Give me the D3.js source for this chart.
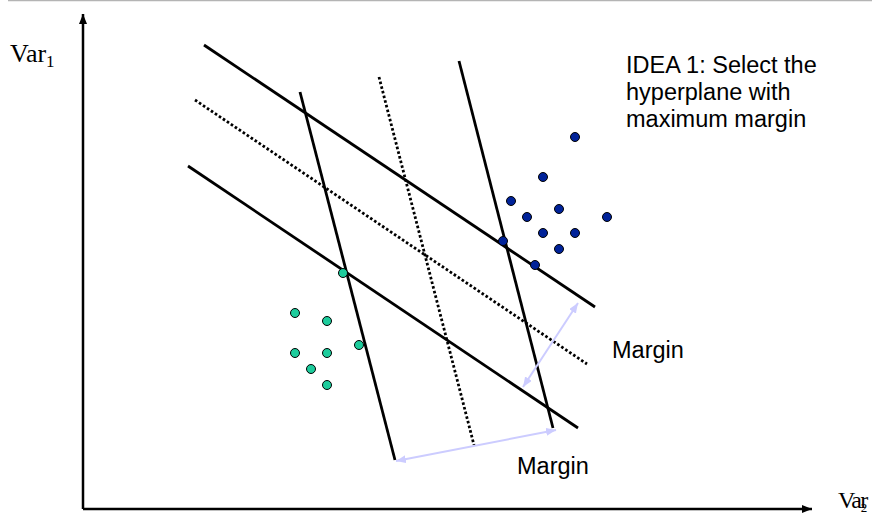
<!DOCTYPE html>
<html>
<head>
<meta charset="utf-8">
<script src="https://cdn.jsdelivr.net/npm/d3@7/dist/d3.min.js"></script>
<style>
  html, body { margin: 0; padding: 0; background: #fff; }
  svg { display: block; }
</style>
</head>
<body>
<svg id="chart" width="872" height="513"></svg>
<script>
// ---- Data (coordinates in the chart's own Var2 / Var1 units) ----
const classA = [ // green points
  [260, 236], [212, 196], [244, 188], [276, 164],
  [212, 156], [244, 156], [228, 140], [244, 124]
];
const classB = [ // blue points
  [492, 372], [460, 332], [428, 308], [476, 300], [444, 292], [524, 292],
  [460, 276], [492, 276], [420, 268], [476, 260], [452, 244]
];
// hyperplanes: [x1, y1, x2, y2, dotted]
const planeSet1 = [
  [121, 464, 512, 202, false],
  [112, 409, 504, 145, true],
  [105, 343, 495, 81, false]
];
const planeSet2 = [
  [217, 417, 312, 49, false],
  [296, 432, 391, 64, true],
  [376, 448, 470, 81, false]
];
const marginArrows = [
  [313, 48, 473, 79],
  [440, 122, 495, 206]
];
const axisEnds = { x: 729, y: 495 };
const ideaLines = ["IDEA 1: Select the", "hyperplane with", "maximum margin"];
const marginLabel = "Margin";

// ---- Scales ----
const x = d3.scaleLinear().domain([0, 737]).range([83, 820]);
const y = d3.scaleLinear().domain([0, 467]).range([509, 42]);

const svg = d3.select("#chart");

// top gray rule
svg.append("line").attr("x1", 8).attr("x2", 872).attr("y1", 0.5).attr("y2", 0.5)
  .attr("stroke", "#b4b4b4").attr("stroke-width", 1.5);

const defs = svg.append("defs");
defs.append("marker").attr("id", "axArrow")
  .attr("viewBox", "0 0 10 8").attr("refX", 10).attr("refY", 4)
  .attr("markerWidth", 10).attr("markerHeight", 8)
  .attr("markerUnits", "userSpaceOnUse").attr("orient", "auto")
  .append("path").attr("d", "M0,0 L10,4 L0,8 z").attr("fill", "#000");
defs.append("marker").attr("id", "mArrow")
  .attr("viewBox", "0 0 10 8").attr("refX", 10).attr("refY", 4)
  .attr("markerWidth", 10).attr("markerHeight", 8)
  .attr("markerUnits", "userSpaceOnUse").attr("orient", "auto-start-reverse")
  .append("path").attr("d", "M0,0 L10,4 L0,8 z").attr("fill", "#ccccff");

// axes
svg.append("line")
  .attr("x1", x(0)).attr("y1", y(0)).attr("x2", x(axisEnds.x)).attr("y2", y(0))
  .attr("stroke", "#000").attr("stroke-width", 2.5).attr("marker-end", "url(#axArrow)");
svg.append("line")
  .attr("x1", x(0)).attr("y1", y(0)).attr("x2", x(0)).attr("y2", y(axisEnds.y))
  .attr("stroke", "#000").attr("stroke-width", 2.5).attr("marker-end", "url(#axArrow)");

// hyperplanes
svg.selectAll("line.plane").data(planeSet1.concat(planeSet2)).enter().append("line")
  .attr("class", "plane")
  .attr("x1", d => x(d[0])).attr("y1", d => y(d[1]))
  .attr("x2", d => x(d[2])).attr("y2", d => y(d[3]))
  .attr("stroke", "#000")
  .attr("stroke-width", 2.8)
  .attr("stroke-dasharray", d => d[4] ? "2.6,2.2" : null);

// margin arrows
svg.selectAll("line.margin").data(marginArrows).enter().append("line")
  .attr("class", "margin")
  .attr("x1", d => x(d[0])).attr("y1", d => y(d[1]))
  .attr("x2", d => x(d[2])).attr("y2", d => y(d[3]))
  .attr("stroke", "#ccccff").attr("stroke-width", 2)
  .attr("marker-start", "url(#mArrow)").attr("marker-end", "url(#mArrow)");

// points
svg.selectAll("circle.a").data(classA).enter().append("circle")
  .attr("class", "a").attr("cx", d => x(d[0])).attr("cy", d => y(d[1])).attr("r", 4.5)
  .attr("fill", "#1dcc9c").attr("stroke", "#000").attr("stroke-width", 1);
svg.selectAll("circle.b").data(classB).enter().append("circle")
  .attr("class", "b").attr("cx", d => x(d[0])).attr("cy", d => y(d[1])).attr("r", 4.5)
  .attr("fill", "#002299").attr("stroke", "#000").attr("stroke-width", 1);

// texts
const sans = "'Liberation Sans', Arial, sans-serif";
const serif = "'Liberation Serif', 'Times New Roman', serif";
const idea = svg.append("text").attr("font-family", sans).attr("font-size", 23.5).attr("fill", "#000");
ideaLines.forEach((t, i) => {
  idea.append("tspan").attr("x", 626).attr("y", 73 + i * 27).text(t);
});
svg.append("text").attr("x", 612).attr("y", 358).attr("font-family", sans)
  .attr("font-size", 23.5).text(marginLabel);
svg.append("text").attr("x", 517).attr("y", 474).attr("font-family", sans)
  .attr("font-size", 23.5).text(marginLabel);

const v1 = svg.append("text").attr("x", 10).attr("y", 62).attr("font-family", serif).attr("font-size", 26);
v1.append("tspan").text("Var");
v1.append("tspan").attr("font-size", 17).attr("dy", 5).text("1");
// Var2 is partly cut by the right edge in the reference; keep it slightly tighter
const v2 = svg.append("text").attr("x", 838).attr("y", 508).attr("font-family", serif)
  .attr("font-size", 24).attr("letter-spacing", -1.5);
v2.append("tspan").text("Var");
v2.append("tspan").attr("font-size", 13).attr("dx", -6).attr("dy", 4).text("2");
</script>
</body>
</html>
